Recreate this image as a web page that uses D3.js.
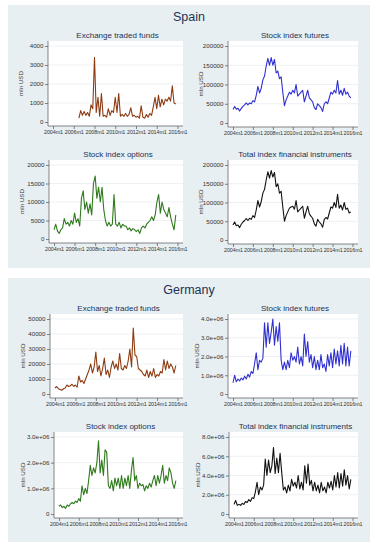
<!DOCTYPE html>
<html>
<head>
<meta charset="utf-8">
<script src="https://cdn.jsdelivr.net/npm/d3@7"></script>
<style>
  body { margin: 0; background: #fff; }
  svg { display: block; font-family: "Liberation Sans", Arial, sans-serif; }
</style>
</head>
<body>
<script>
// data: one value every 2 months, 2004m1 .. 2015m11
var startYear = 2004;
var stepYears = 1 / 6;
var xTickYears = [2004, 2006, 2008, 2010, 2012, 2014, 2016];
var xTickLabels = ["2004m1", "2006m1", "2008m1", "2010m1", "2012m1", "2014m1", "2016m1"];

var spainEtf = [null, null, null, null, null, null, null, null, null, null, null, null, null, null, null,
  200, 600, 350, 550, 350, 500, 300, 900, 700, 3400, 500, 1300, 300, 1500, 300,
  350, 250, 700, 350, 600, 500, 1300, 500, 1500, 300, 400, 300, 450, 300, 400,
  750, 300, 350, 250, 300, 200, 850, 250, 200, 400, 250, 450, 350, 800, 1300,
  700, 1400, 800, 1200, 900, 1200, 1100, 1300, 1100, 1900, 1000, 950];
var spainFutures = [35000, 43000, 36000, 38000, 31000, 38000, 43000, 47000, 52000, 47000, 52000, 50000,
  58000, 55000, 72000, 95000, 78000, 90000, 112000, 122000, 148000, 168000, 150000, 170000,
  150000, 165000, 130000, 135000, 115000, 120000, 80000, 45000, 60000, 70000, 80000, 75000,
  85000, 78000, 100000, 70000, 75000, 80000, 85000, 55000, 70000, 85000, 65000, 60000,
  55000, 40000, 35000, 50000, 45000, 40000, 30000, 50000, 55000, 50000, 65000, 80000,
  75000, 85000, 78000, 110000, 75000, 85000, 72000, 90000, 75000, 80000, 70000, 65000];
var spainOptions = [2500, 4000, 2200, 1500, 2500, 3000, 5500, 4000, 4500, 3500, 5000, 4000,
  7000, 4500, 5500, 3500, 11000, 13000, 8000, 10000, 7000, 9500, 6500, 15000,
  17000, 11000, 14000, 10000, 14000, 8000, 5000, 3500, 4500, 3500, 4000, 12000,
  4000, 3500, 4500, 3000, 4000, 3500, 3500, 2500, 3000, 2200, 2800, 2500,
  2000, 2500, 1500, 3000, 3500, 3000, 4000, 4500, 5000, 6000, 5000, 6500,
  10000, 12000, 7000, 10000, 8000, 7000, 6000, 8500, 6000, 4000, 2500, 6500];
var spainTotal = [40000, 48000, 38000, 40000, 33000, 42000, 48000, 52000, 57000, 52000, 58000, 55000,
  65000, 60000, 80000, 105000, 88000, 102000, 125000, 135000, 160000, 182000, 165000, 185000,
  168000, 180000, 142000, 150000, 125000, 130000, 88000, 50000, 65000, 75000, 85000, 88000,
  90000, 82000, 105000, 75000, 80000, 85000, 90000, 58000, 75000, 90000, 70000, 63000,
  58000, 43000, 37000, 55000, 48000, 43000, 34000, 55000, 60000, 56000, 72000, 88000,
  85000, 100000, 87000, 122000, 85000, 93000, 80000, 100000, 82000, 85000, 72000, 75000];

var germanyEtf = [4000, 5000, 3500, 3000, 2500, 3500, 4000, 6000, 5000, 5500, 6500, 5000,
  6000, 4500, 12000, 8000, 9000, 7000, 10000, 13000, 16000, 20000, 14000, 18000,
  28000, 15000, 19000, 12000, 17000, 24000, 13000, 16000, 11000, 18000, 22000, 17000,
  20000, 16000, 27000, 17000, 16000, 19000, 17000, 22000, 30000, 18000, 44000, 26000,
  25000, 17000, 16000, 15000, 13000, 12000, 16000, 11000, 15000, 12000, 17000, 11000,
  13000, 12000, 15000, 14000, 23000, 16000, 22000, 17000, 20000, 18000, 14000, 19000];
var germanyFutures = [0.6e6, 1.0e6, 0.65e6, 0.8e6, 0.7e6, 0.85e6, 0.75e6, 0.95e6, 0.8e6, 1.05e6, 0.9e6, 1.2e6,
  1.1e6, 1.6e6, 2.2e6, 1.3e6, 1.8e6, 1.7e6, 1.9e6, 3.8e6, 2.5e6, 3.8e6, 2.7e6, 3.3e6,
  4.0e6, 2.6e6, 3.6e6, 2.8e6, 3.8e6, 1.8e6, 1.3e6, 1.7e6, 1.3e6, 1.8e6, 1.4e6, 2.2e6,
  1.8e6, 2.0e6, 1.7e6, 2.5e6, 1.6e6, 2.0e6, 1.5e6, 3.2e6, 2.0e6, 2.8e6, 1.7e6, 2.1e6,
  1.4e6, 2.0e6, 1.3e6, 1.8e6, 1.3e6, 2.1e6, 1.4e6, 1.6e6, 1.2e6, 2.1e6, 1.5e6, 2.2e6,
  1.4e6, 2.4e6, 1.6e6, 2.3e6, 1.5e6, 2.6e6, 1.6e6, 2.7e6, 1.5e6, 2.5e6, 1.5e6, 2.3e6];
var germanyOptions = [0.3e6, 0.35e6, 0.25e6, 0.3e6, 0.22e6, 0.35e6, 0.3e6, 0.4e6, 0.45e6, 0.4e6, 0.5e6, 0.45e6,
  0.6e6, 0.5e6, 1.1e6, 0.75e6, 1.0e6, 0.8e6, 1.3e6, 1.9e6, 1.5e6, 1.8e6, 1.6e6, 2.0e6,
  2.85e6, 1.6e6, 2.1e6, 1.5e6, 2.5e6, 2.4e6, 1.1e6, 1.0e6, 1.3e6, 0.9e6, 1.4e6, 1.1e6,
  1.4e6, 1.0e6, 1.5e6, 1.0e6, 1.4e6, 1.1e6, 1.5e6, 1.0e6, 1.7e6, 2.2e6, 1.3e6, 1.5e6,
  1.0e6, 1.2e6, 1.1e6, 1.15e6, 0.9e6, 1.1e6, 1.0e6, 1.2e6, 1.05e6, 1.3e6, 1.5e6, 1.1e6,
  1.5e6, 1.2e6, 1.5e6, 1.9e6, 1.2e6, 1.5e6, 1.3e6, 1.8e6, 1.6e6, 1.2e6, 1.0e6, 1.3e6];
var germanyTotal = [1.0e6, 1.4e6, 0.9e6, 1.0e6, 0.9e6, 1.1e6, 1.0e6, 1.3e6, 1.2e6, 1.5e6, 1.3e6, 1.7e6,
  1.6e6, 2.3e6, 3.3e6, 2.0e6, 2.8e6, 2.5e6, 3.0e6, 5.7e6, 4.0e6, 5.6e6, 4.3e6, 5.0e6,
  6.9e6, 4.2e6, 5.8e6, 4.3e6, 6.3e6, 4.3e6, 2.5e6, 2.8e6, 2.2e6, 3.0e6, 2.4e6, 3.6e6,
  2.9e6, 3.3e6, 2.7e6, 4.0e6, 2.6e6, 3.3e6, 2.5e6, 5.0e6, 3.2e6, 5.2e6, 3.0e6, 3.5e6,
  2.4e6, 3.3e6, 2.4e6, 3.0e6, 2.2e6, 3.3e6, 2.4e6, 2.8e6, 2.2e6, 3.3e6, 2.7e6, 3.4e6,
  2.5e6, 4.0e6, 2.8e6, 4.3e6, 2.7e6, 4.2e6, 2.9e6, 4.6e6, 3.0e6, 4.0e6, 2.6e6, 3.6e6];

var spainTicksSmall = [0, 1000, 2000, 3000, 4000];
var spainTicksOpt = [0, 5000, 10000, 15000, 20000];
var spainTicksBig = [0, 50000, 100000, 150000, 200000];
var germanyTicksEtf = [0, 10000, 20000, 30000, 40000, 50000];
var germanyTicksFut = [0, 1e6, 2e6, 3e6, 4e6];
var germanyTicksOpt = [0, 1e6, 2e6, 3e6];
var germanyTicksTot = [0, 2e6, 4e6, 6e6, 8e6];

var w = 377, h = 550;
var titleColor = "#1c3255";

var svg = d3.select("body").append("svg").attr("width", w).attr("height", h);

// country panels
var panels = [
  { name: "Spain", y: 5, h: 263 },
  { name: "Germany", y: 278, h: 264 }
];
panels.forEach(function(p) {
  svg.append("rect").attr("x", 8).attr("y", p.y).attr("width", 362).attr("height", p.h)
    .attr("fill", "#e8eff2");
  svg.append("text").attr("x", 189).attr("y", p.y + 16)
    .attr("text-anchor", "middle").attr("font-size", 12.5)
    .attr("fill", titleColor).text(p.name);
});

function sci(v) {
  if (v === 0) return "0";
  var e = Math.floor(Math.log10(v));
  return (v / Math.pow(10, e)).toFixed(1) + "e+0" + e;
}

// subplot layout (pixels only)
var charts = [
  { title: "Exchange traded funds", data: spainEtf, ticks: spainTicksSmall, color: "#8e3b12", ax: 48, right: 183, top: 41, bottom: 126, fmt: String },
  { title: "Stock index futures", data: spainFutures, ticks: spainTicksBig, color: "#3030d0", ax: 228, right: 358, top: 41, bottom: 127, fmt: String },
  { title: "Stock index options", data: spainOptions, ticks: spainTicksOpt, color: "#2f7a1c", ax: 49, right: 183, top: 160, bottom: 243, fmt: String },
  { title: "Total index financial instruments", data: spainTotal, ticks: spainTicksBig, color: "#111111", ax: 228, right: 358, top: 160, bottom: 244, fmt: String },
  { title: "Exchange traded funds", data: germanyEtf, ticks: germanyTicksEtf, color: "#8e3b12", ax: 50, right: 183, top: 314, bottom: 398, fmt: String },
  { title: "Stock index futures", data: germanyFutures, ticks: germanyTicksFut, color: "#3030d0", ax: 228, right: 358, top: 314, bottom: 398, fmt: sci },
  { title: "Stock index options", data: germanyOptions, ticks: germanyTicksOpt, color: "#2f7a1c", ax: 54, right: 183, top: 432, bottom: 518, fmt: sci },
  { title: "Total index financial instruments", data: germanyTotal, ticks: germanyTicksTot, color: "#111111", ax: 229, right: 358, top: 432, bottom: 518, fmt: sci }
];

charts.forEach(function(c) {
  var g = svg.append("g");
  var yMax = c.ticks[c.ticks.length - 1];

  var scaleX = d3.scaleLinear().domain([2004, 2016]).range([c.ax + 5, c.right - 5.5]);
  var scaleY = d3.scaleLinear().domain([0, yMax]).range([c.bottom - 4, c.top + 5]);

  // white plot region
  g.append("rect").attr("x", c.ax).attr("y", c.top)
    .attr("width", c.right - c.ax).attr("height", c.bottom - c.top).attr("fill", "#fff");

  // grid
  g.selectAll("line.grid").data(c.ticks.slice(1)).enter().append("line")
    .attr("x1", c.ax).attr("x2", c.right)
    .attr("y1", function(d) { return scaleY(d); })
    .attr("y2", function(d) { return scaleY(d); })
    .attr("stroke", "#e8eef0").attr("stroke-width", 0.8);

  // title
  g.append("text").attr("x", (c.ax + c.right) / 2 + 2).attr("y", c.top - 3)
    .attr("text-anchor", "middle").attr("font-size", 8)
    .attr("fill", titleColor).text(c.title);

  // y axis
  var yAxis = d3.axisLeft(scaleY).tickValues(c.ticks).tickFormat(c.fmt).tickSize(3).tickPadding(1.5);
  var ya = g.append("g").attr("transform", "translate(" + c.ax + ",0)").call(yAxis);
  ya.select(".domain").attr("d", "M0," + c.top + "V" + c.bottom);

  // x axis
  var xAxis = d3.axisBottom(scaleX).tickValues(xTickYears)
    .tickFormat(function(d, i) { return xTickLabels[i]; }).tickSize(3).tickPadding(1.5);
  var xa = g.append("g").attr("transform", "translate(0," + c.bottom + ")").call(xAxis);
  xa.select(".domain").attr("d", "M" + c.ax + ",0H" + c.right);

  [ya, xa].forEach(function(a) {
    a.selectAll("text").attr("font-size", 6.2).attr("fill", "#333")
      .attr("font-family", "Liberation Sans, Arial, sans-serif");
    a.selectAll("line, path").attr("stroke", "#555").attr("stroke-width", 0.7);
  });
  // x labels sit edge to edge as in the original, keep them just apart
  xa.selectAll("text").attr("font-size", 5.4).attr("letter-spacing", -0.1);

  // y axis title
  g.append("text")
    .attr("transform", "translate(" + (c.ax - (c.fmt === sci ? 29 : 25)) + "," + ((c.top + c.bottom) / 2) + ") rotate(-90)")
    .attr("text-anchor", "middle").attr("font-size", 6.2).attr("fill", "#333")
    .text("mln USD");

  // series line
  var line = d3.line()
    .defined(function(d) { return d != null; })
    .x(function(d, i) { return scaleX(startYear + i * stepYears); })
    .y(function(d) { return scaleY(d); });

  g.append("path").datum(c.data)
    .attr("d", line).attr("fill", "none")
    .attr("stroke", c.color).attr("stroke-width", 1.1)
    .attr("stroke-linejoin", "round");
});
</script>
</body>
</html>
